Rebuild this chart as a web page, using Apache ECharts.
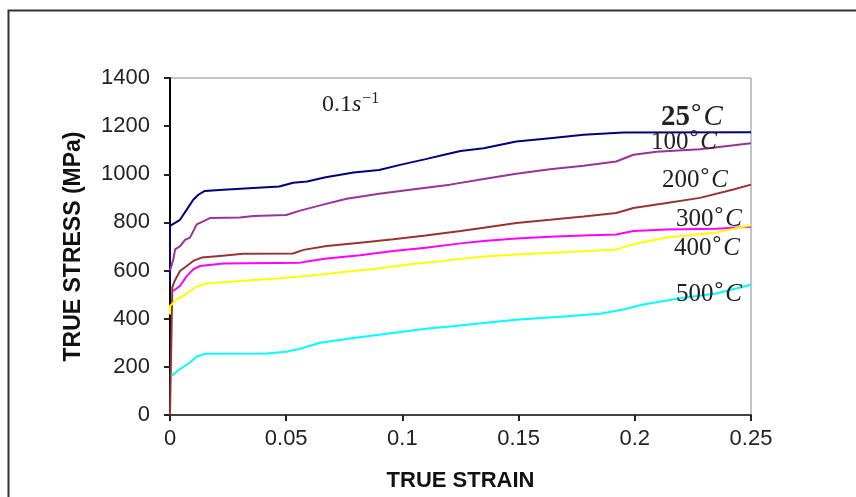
<!DOCTYPE html>
<html>
<head>
<meta charset="utf-8">
<script src="https://cdn.jsdelivr.net/npm/echarts@6/dist/echarts.min.js"></script>
<style>
html,body{margin:0;padding:0;background:#fff;}
#chart{width:856px;height:497px;}
</style>
</head>
<body>
<div id="chart"></div>
<script>
// ---- data (strain, stress MPa) ----
const s25 = [[0,550],[0,786],[0.0043,811],[0.0072,853],[0.010,894],[0.0122,915],[0.015,931],[0.023,936],[0.034,942],[0.047,949],[0.053,965],[0.059,970],[0.067,988],[0.079,1007],[0.090,1018],[0.099,1039],[0.110,1063],[0.118,1081],[0.125,1097],[0.135,1108],[0.149,1136],[0.1635,1150],[0.178,1164],[0.195,1174],[0.25,1175]];
const s100 = [[0,600],[0.0014,645],[0.0022,688],[0.0043,701],[0.0065,728],[0.0086,737],[0.0115,792],[0.0172,818],[0.030,820],[0.036,827],[0.050,831],[0.056,849],[0.065,872],[0.076,898],[0.090,919],[0.105,938],[0.1205,957],[0.135,980],[0.149,1002],[0.1635,1021],[0.178,1035],[0.192,1053],[0.1994,1081],[0.2094,1094],[0.228,1104],[0.25,1129]];
const s200 = [[0,0],[0.001,530],[0.002,557],[0.0043,598],[0.0072,619],[0.010,640],[0.0136,654],[0.0215,661],[0.0315,670],[0.053,671],[0.0574,686],[0.0674,702],[0.0818,716],[0.0961,730],[0.110,746],[0.125,764],[0.135,778],[0.149,798],[0.1635,811],[0.178,825],[0.192,839],[0.1994,860],[0.2137,881],[0.228,902],[0.2424,937],[0.25,957]];
const s300 = [[0.0014,515],[0.0043,536],[0.0072,577],[0.010,605],[0.0129,619],[0.023,629],[0.0560,633],[0.0603,640],[0.0674,650],[0.0818,664],[0.0961,681],[0.110,695],[0.125,713],[0.135,723],[0.149,733],[0.1635,741],[0.178,746],[0.192,750],[0.1994,764],[0.2137,771],[0.235,774],[0.25,782]];
const s400 = [[0,417],[0,453],[0.0029,481],[0.0057,495],[0.0086,515],[0.0115,534],[0.0158,546],[0.030,557],[0.0459,567],[0.0603,578],[0.0746,594],[0.0889,608],[0.1033,626],[0.1176,640],[0.1205,644],[0.135,658],[0.149,667],[0.1707,677],[0.192,688],[0.1994,709],[0.2137,737],[0.235,758],[0.25,788]];
const s500 = [[0.0007,163],[0.0043,191],[0.0086,218],[0.0115,243],[0.015,254],[0.0416,255],[0.050,263],[0.0560,275],[0.0646,300],[0.079,320],[0.0933,338],[0.110,358],[0.1205,368],[0.135,382],[0.149,396],[0.1707,410],[0.185,421],[0.195,438],[0.2036,459],[0.2208,487],[0.235,505],[0.25,541]];
const seriesNames = ['25°C','100°C','200°C','300°C','400°C','500°C'];
const seriesData = [s25, s100, s200, s300, s400, s500];
const seriesColors = ['#000080','#993399','#993333','#FF00FF','#FFFF00','#00FFFF'];
const xTickLabels = ['0','0.05','0.1','0.15','0.2','0.25'];
const yTickLabels = ['0','200','400','600','800','1000','1200','1400'];

const chart = echarts.init(document.getElementById('chart'), null, {renderer:'canvas'});

function curveLabel(num, left, cy, big){
  const fs = big ? 29 : 25;
  return {
    type:'text', left:left, top:cy - Math.round(fs*0.6), z:100,
    style:{
      text:'{n|'+num+'}{d|°}{c|C}',
      rich:{
        n:{fontFamily:'Liberation Serif', fontSize:fs, fill:'#222', fontWeight:big?'bold':'normal'},
        d:{fontFamily:'Liberation Serif', fontSize:fs-3, fill:'#222', fontWeight:'bold', verticalAlign:'top', padding:[0,2,9,1]},
        c:{fontFamily:'Liberation Serif', fontSize:fs, fill:'#222', fontStyle:'italic'}
      }
    }
  };
}

const option = {
  animation:false,
  backgroundColor:'#fff',
  grid:{left:170, right:105, top:78, bottom:81.5, show:true, borderColor:'#888', borderWidth:1, containLabel:false},
  xAxis:{
    type:'value', min:0, max:0.25, interval:0.05,
    name:'TRUE STRAIN', nameLocation:'middle', nameGap:55,
    nameTextStyle:{fontFamily:'Liberation Sans', fontWeight:'bold', fontSize:22, color:'#111'},
    axisLine:{show:true, onZero:false, lineStyle:{color:'#444', width:2}},
    axisTick:{show:true, length:6, lineStyle:{color:'#222', width:2}},
    axisLabel:{fontFamily:'Liberation Sans', fontSize:22, color:'#222', margin:13,
      formatter:function(v){ return xTickLabels[Math.round(v/0.05)]; }},
    splitLine:{show:false}
  },
  yAxis:{
    type:'value', min:0, max:1400, interval:200,
    name:'TRUE STRESS (MPa)', nameLocation:'middle', nameGap:85, nameRotate:90,
    nameTextStyle:{fontFamily:'Liberation Sans', fontWeight:'bold', fontSize:23, color:'#111'},
    axisLine:{show:true, onZero:false, lineStyle:{color:'#000', width:2}},
    axisTick:{show:true, length:6, lineStyle:{color:'#222', width:2}},
    axisLabel:{fontFamily:'Liberation Sans', fontSize:22, color:'#222', margin:20,
      formatter:function(v){ return yTickLabels[Math.round(v/200)]; }},
    splitLine:{show:false}
  },
  series: seriesData.map(function(d,i){
    return {name:seriesNames[i], type:'line', data:d, showSymbol:false, symbol:'none',
      lineStyle:{color:seriesColors[i], width:2}, itemStyle:{color:seriesColors[i]}, z:2+i};
  }),
  graphic:[
    {type:'rect', left:6, top:8, z:0, shape:{width:900, height:600},
     style:{fill:'none', stroke:'#333', lineWidth:2}},
    curveLabel('25', 661, 117, true),
    curveLabel('100', 651, 142, false),
    curveLabel('200', 662, 180, false),
    curveLabel('300', 676, 219, false),
    curveLabel('400', 674, 248, false),
    curveLabel('500', 676, 294, false),
    {type:'text', left:322, top:91, z:100,
     style:{text:'{a|0.1}{s|s}{e|−1}',
       rich:{a:{fontFamily:'Liberation Serif', fontSize:24, fill:'#222'},
             s:{fontFamily:'Liberation Serif', fontSize:24, fill:'#222', fontStyle:'italic'},
             e:{fontFamily:'Liberation Serif', fontSize:16, fill:'#222', verticalAlign:'top', padding:[0,0,12,1]}}}}
  ]
};
chart.setOption(option);
</script>
</body>
</html>
